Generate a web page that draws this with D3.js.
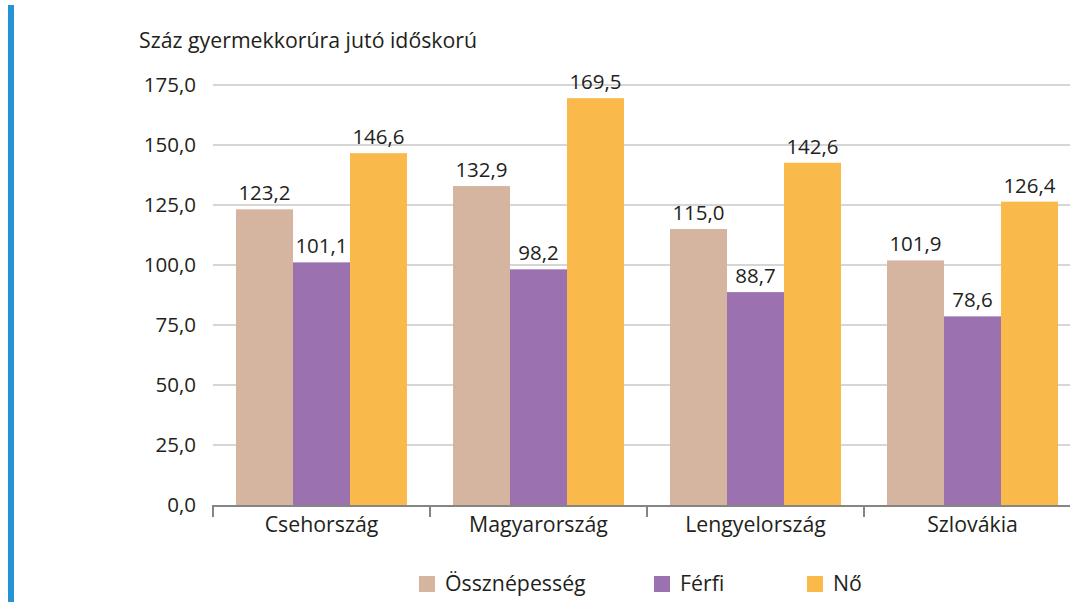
<!DOCTYPE html>
<html>
<head>
<meta charset="utf-8">
<script src="https://cdn.jsdelivr.net/npm/d3@7"></script>
<style>
  body { margin: 0; background: #fff; }
  text { font-family: "Open Sans", "Noto Sans", sans-serif; fill: #231f20; }
</style>
</head>
<body>
<script>
var countries = ["Csehország", "Magyarország", "Lengyelország", "Szlovákia"];
var seriesNames = ["Össznépesség", "Férfi", "Nő"];
var seriesColors = ["#d5b59f", "#9b71b0", "#fab94b"];
var total = [123.2, 132.9, 115.0, 101.9];
var male = [101.1, 98.2, 88.7, 78.6];
var female = [146.6, 169.5, 142.6, 126.4];
var yTicks = [0, 25, 50, 75, 100, 125, 150, 175];
var yTitle = "Száz gyermekkorúra jutó időskorú";

var width = 1070, height = 602;
var fs = 20.5, fsText = 21.3;
var svg = d3.select("body").append("svg").attr("width", width).attr("height", height);

// blue side strip
svg.append("rect").attr("x", 8).attr("y", 5).attr("width", 6).attr("height", height - 5).attr("fill", "#2593d4");

var x0 = d3.scaleBand().domain(countries).range([213, 1081]).paddingInner(0).paddingOuter(0);
var x1 = d3.scaleBand().domain(seriesNames).range([23, x0.bandwidth() - 23]);
var y = d3.scaleLinear().domain([0, 175]).range([505, 85]);
var color = d3.scaleOrdinal().domain(seriesNames).range(seriesColors);
var fmt = function (v) { return d3.format(".1f")(v).replace(".", ","); };

// gridlines
svg.append("g").selectAll("line").data(yTicks.filter(function (d) { return d > 0; })).enter().append("line")
    .attr("x1", 213).attr("x2", width).attr("y1", function (d) { return y(d); }).attr("y2", function (d) { return y(d); })
    .attr("stroke", "#c9c9c9").attr("stroke-width", 1.5);

// y labels
svg.append("g").selectAll("text").data(yTicks).enter().append("text")
    .attr("x", 196).attr("y", function (d) { return y(d); }).attr("dy", "0.35em")
    .attr("text-anchor", "end").attr("font-size", fs).text(fmt);

svg.append("text").attr("x", 139).attr("y", 48).attr("font-size", fsText).text(yTitle);

var data = countries.map(function (c, i) {
    return { country: c, values: [total[i], male[i], female[i]].map(function (v, j) { return { key: seriesNames[j], value: v }; }) };
});

var groups = svg.append("g").selectAll("g").data(data).enter().append("g")
    .attr("transform", function (d) { return "translate(" + x0(d.country) + ",0)"; });

groups.selectAll("rect").data(function (d) { return d.values; }).enter().append("rect")
    .attr("x", function (d) { return x1(d.key); }).attr("width", x1.bandwidth())
    .attr("y", function (d) { return y(d.value); }).attr("height", function (d) { return y(0) - y(d.value); })
    .attr("fill", function (d) { return color(d.key); });

groups.selectAll("text").data(function (d) { return d.values; }).enter().append("text")
    .attr("x", function (d) { return x1(d.key) + x1.bandwidth() / 2; })
    .attr("y", function (d) { return y(d.value) - 9; })
    .attr("text-anchor", "middle").attr("font-size", fs).text(function (d) { return fmt(d.value); });

// x axis
var xAxis = d3.axisBottom(x0).tickSize(0).tickPadding(11);
var gx = svg.append("g").attr("transform", "translate(0," + 506 + ")").call(xAxis);
gx.select(".domain").remove();
gx.attr("font-family", null).attr("font-size", fsText);
gx.selectAll("text").attr("fill", null);
svg.append("line").attr("x1", 213).attr("x2", width).attr("y1", 506).attr("y2", 506).attr("stroke", "#858585").attr("stroke-width", 2);
var boundaries = countries.map(function (c) { return x0(c); });
svg.append("g").selectAll("line").data(boundaries).enter().append("line")
    .attr("x1", function (d) { return d; }).attr("x2", function (d) { return d; })
    .attr("y1", 505).attr("y2", 517).attr("stroke", "#858585").attr("stroke-width", 2);

// legend
var legendX = [419, 654, 807];
var legend = svg.append("g").selectAll("g").data(seriesNames).enter().append("g")
    .attr("transform", function (d, i) { return "translate(" + legendX[i] + ",576)"; });
legend.append("rect").attr("width", 16).attr("height", 16).attr("fill", function (d) { return color(d); });
legend.append("text").attr("x", 26).attr("y", 8).attr("dy", "0.35em").attr("font-size", fsText).text(function (d) { return d; });
</script>
</body>
</html>
